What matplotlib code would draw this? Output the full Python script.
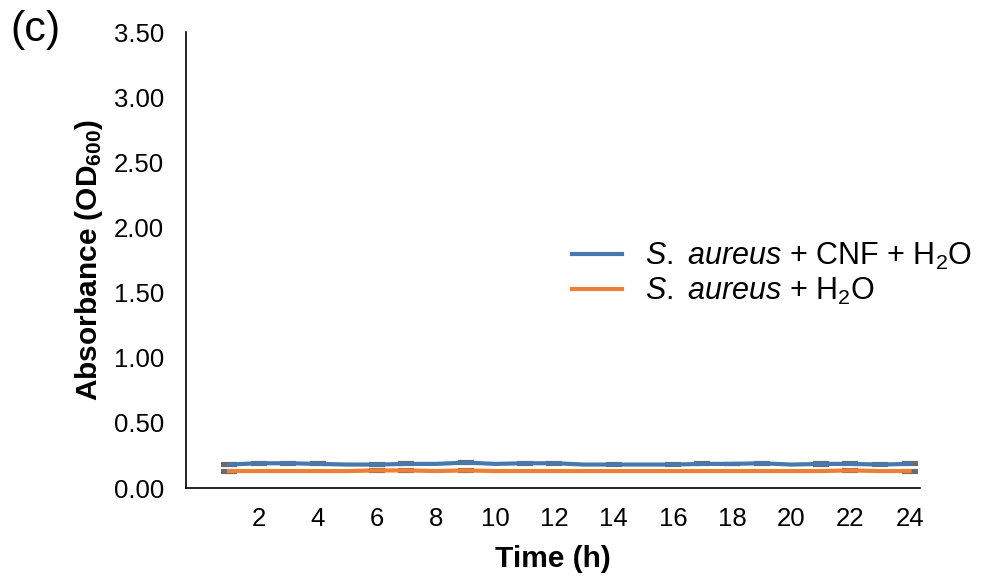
import numpy as np
import matplotlib.pyplot as plt

plt.rcParams['font.family'] = ['Liberation Sans', 'DejaVu Sans']
plt.rcParams['mathtext.fontset'] = 'custom'
plt.rcParams['mathtext.rm'] = 'Liberation Sans'
plt.rcParams['mathtext.it'] = 'Liberation Sans:italic'
plt.rcParams['mathtext.bf'] = 'Liberation Sans:bold'

hours = np.arange(1, 25)
cnf_water = [0.18, 0.19, 0.19, 0.185, 0.18, 0.18, 0.185, 0.185, 0.195, 0.185, 0.19, 0.19,
             0.18, 0.18, 0.18, 0.18, 0.185, 0.185, 0.19, 0.18, 0.185, 0.185, 0.18, 0.185]
cnf_err = [0.004, 0.005, 0.004, 0.004, 0.0, 0.003, 0.004, 0.0, 0.004, 0.0, 0.004, 0.004,
           0.0, 0.003, 0.0, 0.003, 0.004, 0.003, 0.005, 0.0, 0.005, 0.004, 0.004, 0.004]
water = [0.13, 0.13, 0.13, 0.13, 0.13, 0.135, 0.135, 0.13, 0.135, 0.13, 0.13, 0.13,
         0.13, 0.13, 0.13, 0.13, 0.13, 0.13, 0.13, 0.13, 0.13, 0.135, 0.13, 0.13]
water_err = [0.004, 0.0, 0.0, 0.0, 0.0, 0.003, 0.004, 0.0, 0.004, 0.0, 0.0, 0.0,
             0.0, 0.0, 0.0, 0.0, 0.0, 0.0, 0.0, 0.0, 0.0, 0.005, 0.0, 0.004]
xticks = np.arange(2, 25, 2)
yticks = np.arange(0, 3.51, 0.5)

fig = plt.figure(figsize=(9.83, 5.83), dpi=100)
ax = fig.add_axes([186 / 983, 1 - 488 / 583, (920 - 186) / 983, (488 - 32) / 583])

series = [
    (cnf_water, cnf_err, '#4878ae', r'$\it{S.\ aureus}$ + CNF + H$_2$O'),
    (water, water_err, '#ef7f33', r'$\it{S.\ aureus}$ + H$_2$O'),
]
for vals, err, col, lab in series:
    vals = np.array(vals)
    err = np.array(err)
    m = err > 0
    ax.errorbar(hours[m], vals[m], yerr=err[m], fmt='none', ecolor='#6a6a6a',
                elinewidth=0, capsize=6, capthick=3, zorder=2)
    ax.plot(hours, vals, color=col, lw=3, label=lab, zorder=3)

ax.set_xlim(-0.45, 24.35)
ax.set_ylim(0, 3.5)
ax.set_xticks(xticks)
ax.set_yticks(yticks)
ax.set_yticklabels([f'{v:.2f}' for v in yticks])
ax.tick_params(length=0, labelsize=18.5)
ax.tick_params(axis='y', pad=16)
ax.tick_params(axis='x', pad=14)
ax.spines['top'].set_visible(False)
ax.spines['right'].set_visible(False)
ax.spines['left'].set_linewidth(1.2)
ax.spines['bottom'].set_linewidth(1.2)

ax.set_xlabel('Time (h)', fontsize=21.5, fontweight='bold', labelpad=10)
ax.set_ylabel(r'Absorbance (OD$_{\mathbf{600}}$)', fontsize=21.5, fontweight='bold', labelpad=6)

ax.legend(loc='center left', bbox_to_anchor=((572 - 186) / 734, (488 - 274) / 456), frameon=False,
          fontsize=22, handlelength=1.64, handletextpad=0.75, labelspacing=0.12, borderpad=0,
          borderaxespad=0)

fig.text(10 / 983, 1 - 30 / 583, '(c)', fontsize=31, va='center', ha='left')

fig.savefig('out.png', dpi=100)
